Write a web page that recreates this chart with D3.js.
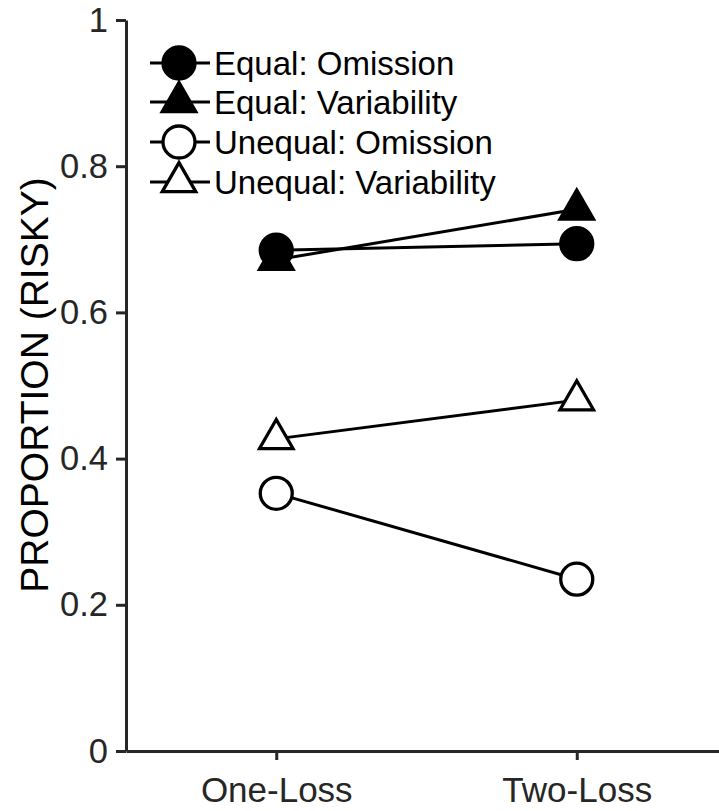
<!DOCTYPE html>
<html>
<head>
<meta charset="utf-8">
<script src="https://cdn.jsdelivr.net/npm/d3@7"></script>
<style>
  html, body { margin: 0; padding: 0; background: #fff; }
  svg { display: block; }
</style>
</head>
<body>
<div id="chart"></div>
<script>
// ---- data ----
const categories = ["One-Loss", "Two-Loss"];
const seriesNames = ["Equal: Omission", "Equal: Variability", "Unequal: Omission", "Unequal: Variability"];
const equalOmission = [0.685, 0.694];
const equalVariability = [0.672, 0.741];
const unequalOmission = [0.3525, 0.235];
const unequalVariability = [0.427, 0.480];
const yTickValues = [0, 0.2, 0.4, 0.6, 0.8, 1];
const yTickLabels = ["0", "0.2", "0.4", "0.6", "0.8", "1"];
const yLabel = "PROPORTION (RISKY)";

const series = [
  { name: seriesNames[0], values: equalOmission, shape: "circle", filled: true },
  { name: seriesNames[1], values: equalVariability, shape: "triangle", filled: true },
  { name: seriesNames[2], values: unequalOmission, shape: "circle", filled: false },
  { name: seriesNames[3], values: unequalVariability, shape: "triangle", filled: false }
];

// ---- layout ----
const W = 719, H = 811;
const axisColor = "#262626";
const font = "'Liberation Sans', Arial, Helvetica, sans-serif";

const svg = d3.select("#chart").append("svg")
  .attr("width", W).attr("height", H)
  .attr("font-family", font);

const x = d3.scaleLinear().domain([0.5, 2.5]).range([126, 727]);
const y = d3.scaleLinear().domain([0, 1]).range([751, 20]);

// axes
const yAxis = d3.axisLeft(y)
  .tickValues(yTickValues)
  .tickFormat((d, i) => yTickLabels[i])
  .tickSize(10).tickSizeOuter(0).tickPadding(8);
const gy = svg.append("g").attr("transform", `translate(${x(0.5)},0)`).call(yAxis);
gy.select(".domain").attr("stroke", axisColor).attr("stroke-width", 3);
gy.selectAll(".tick line").attr("stroke", axisColor).attr("stroke-width", 3);
gy.selectAll(".tick text").attr("fill", axisColor).attr("font-size", 34.5).attr("font-family", font);

const xAxis = d3.axisBottom(x)
  .tickValues([1, 2])
  .tickFormat((d, i) => categories[i])
  .tickSize(9).tickSizeOuter(0).tickPadding(17);
const gx = svg.append("g").attr("transform", `translate(0,${y(0)})`).call(xAxis);
gx.select(".domain").attr("stroke", axisColor).attr("stroke-width", 3);
gx.selectAll(".tick line").attr("stroke", axisColor).attr("stroke-width", 3);
gx.selectAll(".tick text").attr("fill", axisColor).attr("font-size", 35).attr("font-family", font);

// y label
svg.append("text")
  .attr("transform", `translate(48,${(175 + 595) / 2}) rotate(-90)`)
  .attr("text-anchor", "middle")
  .attr("font-size", 39)
  .attr("fill", "#000")
  .text(yLabel);

// markers
const circleR = 16;
const triSize = 486; // d3 symbol area
const triPath = d3.symbol(d3.symbolTriangle, triSize)();

function drawMarker(g, shape, filled, cx, cy) {
  if (shape === "circle") {
    g.append("circle").attr("cx", cx).attr("cy", cy).attr("r", circleR)
      .attr("fill", filled ? "#000" : "#fff").attr("stroke", "#000").attr("stroke-width", 3.3);
  } else {
    g.append("path").attr("d", triPath).attr("transform", `translate(${cx},${cy})`)
      .attr("fill", filled ? "#000" : "#fff").attr("stroke", "#000").attr("stroke-width", 3.3)
      .attr("stroke-linejoin", "miter");
  }
}

const line = d3.line().x((d, i) => x(i + 1)).y(d => y(d));
series.forEach(s => {
  const g = svg.append("g");
  g.append("path").attr("d", line(s.values)).attr("fill", "none")
    .attr("stroke", "#000").attr("stroke-width", 3);
  s.values.forEach((v, i) => drawMarker(g, s.shape, s.filled, x(i + 1), y(v)));
});

// legend
const legendRows = [63, 102, 142, 182];
series.forEach((s, i) => {
  const g = svg.append("g");
  const ly = legendRows[i];
  g.append("line").attr("x1", 150).attr("x2", 210).attr("y1", ly).attr("y2", ly)
    .attr("stroke", "#000").attr("stroke-width", 3);
  drawMarker(g, s.shape, s.filled, 179, ly);
  g.append("text").attr("x", 214).attr("y", ly).attr("dy", "0.36em")
    .attr("font-size", 33).attr("fill", "#000").text(s.name);
});
</script>
</body>
</html>
